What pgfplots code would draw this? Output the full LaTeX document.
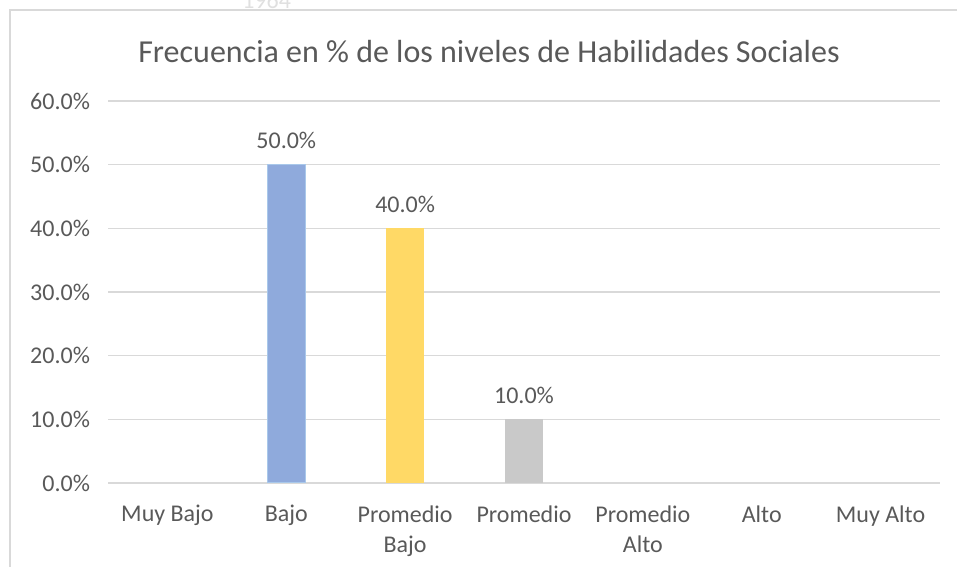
\documentclass[border=0pt]{standalone}
\usepackage{pgfplots}
\pgfplotsset{compat=1.18}
\usepackage{fontspec}
\setmainfont{Carlito}

\definecolor{txt}{HTML}{595959}
\definecolor{gridc}{HTML}{D9D9D9}
\definecolor{barblue}{HTML}{8FAADC}
\definecolor{edgeblue}{HTML}{A9C8EA}
\definecolor{baryel}{HTML}{FFD966}
\definecolor{bargray}{HTML}{C9C9C9}

\begin{document}
\begin{tikzpicture}
\useasboundingbox (0,0) rectangle (717.75pt,425.25pt);
% faint watermark from the page behind the chart
\node[text=black!12, font=\fontsize{18}{18}\selectfont] at (200pt,425pt) {1964};
% chart area frame (only left and top edges are visible)
\draw[gridc, line width=0.8pt] (7.5pt,0pt) -- (7.5pt,417.75pt) -- (717.75pt,417.75pt);

\node[text=txt, font=\fontsize{24}{24}\selectfont] at (366.75pt,386.25pt)
  {Frecuencia en \% de los niveles de Habilidades Sociales};

\begin{axis}[
    at={(81pt,63pt)}, anchor=south west,
    scale only axis, width=624pt, height=286.5pt,
    xmin=-0.5, xmax=6.5, ymin=0, ymax=60,
    xtick={0,...,6},
    xticklabels={Muy Bajo, Bajo, {Promedio\\Bajo}, Promedio, {Promedio\\Alto}, Alto, Muy Alto},
    ytick={0,10,...,60},
    yticklabel={\pgfmathprintnumber[fixed,fixed zerofill,precision=1]{\tick}\%},
    /pgf/number format/assume math mode=true,
    ymajorgrids, major grid style={gridc, line width=0.9pt},
    axis line style={draw=none}, tick style={draw=none},
    ticklabel style={text=txt, font=\fontsize{18}{22.5}\selectfont},
    x tick label style={align=center, anchor=north, yshift=-9pt},
    y tick label style={xshift=-10pt},
    ybar, bar width=28.5pt,
    nodes near coords={\pgfmathprintnumber[fixed,fixed zerofill,precision=1]{\pgfplotspointmeta}\%},
    every node near coord/.append style={text=txt, font=\fontsize{18}{18}\selectfont, anchor=center, yshift=18pt},
]
\addplot[bar shift=0pt, fill=barblue, draw=edgeblue, line width=0.8pt] coordinates {(1,50)};
\addplot[bar shift=0pt, fill=baryel, draw=none] coordinates {(2,40)};
\addplot[bar shift=0pt, fill=bargray, draw=none] coordinates {(3,10)};
\end{axis}
\end{tikzpicture}
\end{document}
